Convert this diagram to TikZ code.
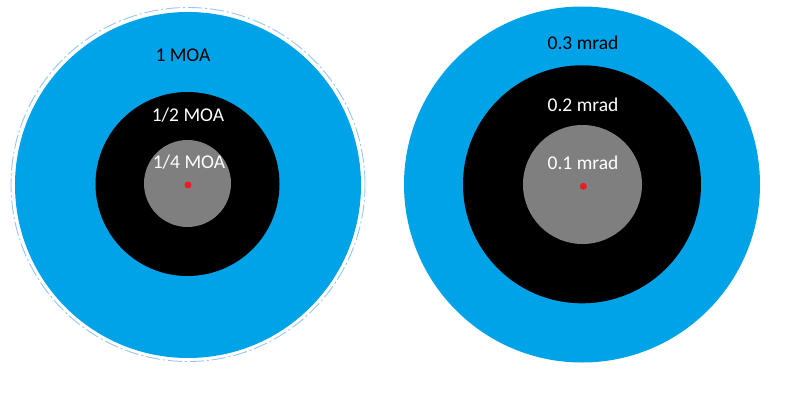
\documentclass[tikz,border=0pt]{standalone}
\usepackage{fontspec}
\setmainfont{Carlito}
\usepackage{xcolor}
\usetikzlibrary{positioning}
\definecolor{ringblue}{HTML}{00A2E8}
\definecolor{ringgray}{HTML}{7F7F7F}
\definecolor{dotred}{HTML}{ED1C24}
\definecolor{outlineblue}{HTML}{99C4F2}

\begin{document}
\begin{tikzpicture}[x=1pt,y=-1pt,
    lbl/.style={anchor=base,inner sep=0pt,font=\fontsize{19.5}{21}\selectfont},
    aimdot/.style={fill=dotred}]
\useasboundingbox (0,0) rectangle (798,402);
% left target (MOA)
\draw[outlineblue,line width=0.9pt,dash pattern=on 14pt off 3pt on 2pt off 3pt] (188,184.5) circle[radius=177pt];
\fill[ringblue] (188,185) circle[radius=173pt];
\fill[black] (187.5,184) circle[radius=92pt];
\fill[ringgray] (187.5,183.5) circle[radius=43.5pt];
\fill[aimdot] (188,185) circle[radius=3.5pt];
\node[lbl,text=black] (moa1) at (183,61) {1 MOA};
\node[lbl,text=white] (moa2) at (188,121) {1/2 MOA};
\node[lbl,text=white] (moa4) at (189,168.3) {1/4 MOA};
% right target (mrad)
\fill[ringblue] (582,184.5) circle[radius=178pt];
\fill[black] (582,184.3) circle[radius=119pt];
\fill[ringgray] (582.5,184.5) circle[radius=59.5pt];
\fill[aimdot] (583.3,186.3) circle[radius=3.5pt];
\node[lbl,text=black] (mrad3) at (583,49.3) {0.3 mrad};
\node[lbl,text=white] (mrad2) at (583,111.7) {0.2 mrad};
\node[lbl,text=white] (mrad1) at (583,169.3) {0.1 mrad};
\end{tikzpicture}
\end{document}
